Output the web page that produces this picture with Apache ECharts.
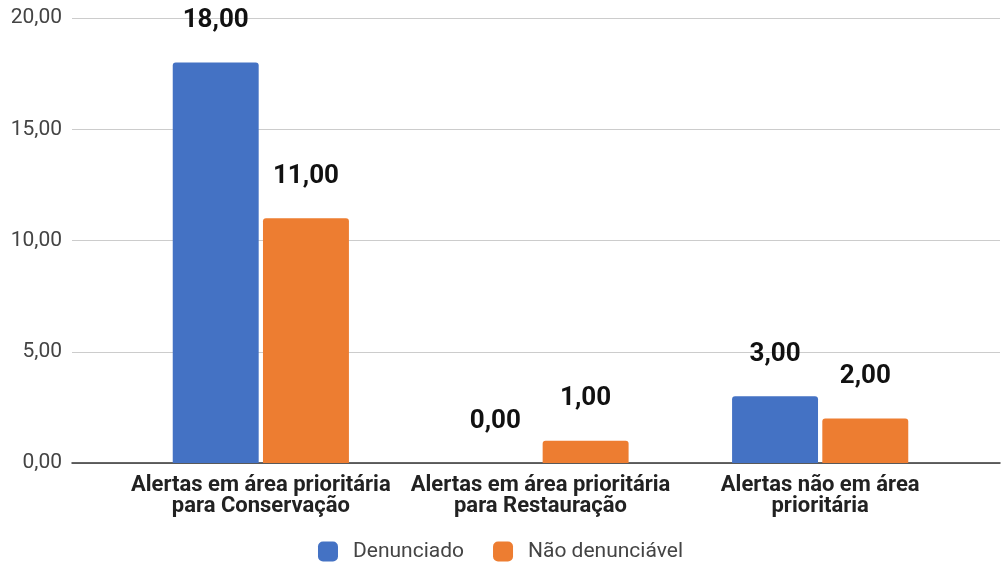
<!DOCTYPE html>
<html>
<head>
<meta charset="utf-8">
<script src="https://cdn.jsdelivr.net/npm/echarts@6/dist/echarts.min.js"></script>
<style>
  html, body { margin: 0; padding: 0; background: #fff; }
  #chart-container { width: 1001px; height: 562px; }
</style>
</head>
<body>
<div id="chart-container"></div>
<script>
// chart data
var categories = [
  'Alertas em área prioritária\npara Conservação',
  'Alertas em área prioritária\npara Restauração',
  'Alertas não em área\nprioritária'
];
var denunciado = [18, 0, 3];
var naoDenunciavel = [11, 1, 2];
var seriesNames = ['Denunciado', 'Não denunciável'];
var yTicks = { min: 0, max: 20, interval: 5 };

function fmt(v) {
  return Number(v).toFixed(2).replace('.', ',');
}

var dom = document.getElementById('chart-container');
var myChart = echarts.init(dom, null, { renderer: 'canvas' });

var labelStyle = {
  show: true,
  position: 'top',
  distance: 29,
  fontFamily: 'Roboto',
  fontWeight: 'bold',
  fontSize: 26,
  color: '#111',
  formatter: function (p) { return fmt(p.value); }
};

var option = {
  animation: false,
  textStyle: { fontFamily: 'Roboto' },
  legend: {
    top: 536,
    left: 'center',
    itemWidth: 20,
    itemHeight: 20,
    itemGap: 29,
    icon: 'roundRect',
    textStyle: { fontFamily: 'Roboto', fontSize: 21, color: '#444', padding: [0, 0, 0, 10] },
    data: seriesNames
  },
  grid: [
    { left: 72, right: 1, top: 18, bottom: 99 },
    { left: 121, right: 41, top: 18, bottom: 99 }
  ],
  xAxis: [
    {
      gridIndex: 0,
      type: 'category',
      data: [''],
      axisLine: { lineStyle: { color: '#333', width: 1.5 } },
      axisTick: { show: false },
      axisLabel: { show: false }
    },
    {
      gridIndex: 1,
      type: 'category',
      data: categories,
      axisLine: { show: false },
      axisTick: { show: false },
      axisLabel: {
        interval: 0,
        margin: 12,
        fontFamily: 'Roboto',
        fontWeight: 'bold',
        fontSize: 22,
        lineHeight: 21,
        color: '#222'
      }
    }
  ],
  yAxis: [
    {
      gridIndex: 0,
      type: 'value',
      min: yTicks.min,
      max: yTicks.max,
      interval: yTicks.interval,
      axisLine: { show: false },
      axisTick: { show: false },
      axisLabel: {
        margin: 10,
        fontFamily: 'Roboto',
        fontSize: 21,
        color: '#444',
        formatter: fmt
      },
      splitLine: { lineStyle: { color: '#ccc', width: 1 } }
    },
    {
      gridIndex: 1,
      type: 'value',
      min: yTicks.min,
      max: yTicks.max,
      interval: yTicks.interval,
      show: false,
      splitLine: { show: false }
    }
  ],
  series: [
    {
      name: seriesNames[0],
      type: 'bar',
      xAxisIndex: 1,
      yAxisIndex: 1,
      data: denunciado,
      barCategoryGap: '37%',
      barGap: '5%',
      itemStyle: { color: '#4472C4', borderRadius: [3, 3, 0, 0] },
      label: labelStyle
    },
    {
      name: seriesNames[1],
      type: 'bar',
      xAxisIndex: 1,
      yAxisIndex: 1,
      data: naoDenunciavel,
      barCategoryGap: '37%',
      barGap: '5%',
      itemStyle: { color: '#ED7D31', borderRadius: [3, 3, 0, 0] },
      label: labelStyle
    }
  ]
};

myChart.setOption(option);
window.addEventListener('resize', myChart.resize);
</script>
</body>
</html>
